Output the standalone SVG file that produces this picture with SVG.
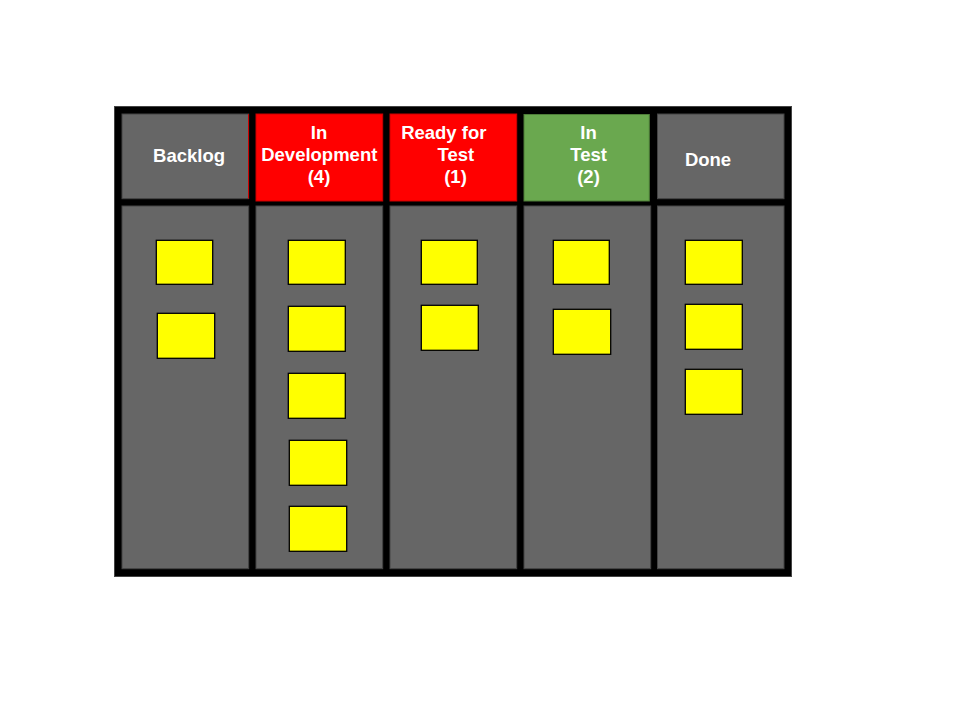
<svg xmlns="http://www.w3.org/2000/svg" width="960" height="720" viewBox="0 0 960 720">
<style>
.board{fill:#000000;stroke:#444444;stroke-width:1}
.panel{fill:#666666;stroke:#444444;stroke-width:1}
.red{fill:#ff0000;stroke:#cc0000;stroke-width:1}
.green{fill:#6aa84f;stroke:#4e7d39;stroke-width:1}
.card{fill:#ffff00;stroke:#000000;stroke-width:1.3}
.lbl{font-family:"Liberation Sans",Arial,sans-serif;font-weight:bold;font-size:18.5px;fill:#ffffff;text-anchor:middle}
</style>
<rect width="960" height="720" fill="#ffffff"/>
<g id="board">
<rect class="board" x="114.5" y="106.5" width="677" height="470"/>
</g>
<g id="col-backlog">
<rect class="panel" x="122" y="114" width="126.7" height="84.7"/>
<line x1="248.5" y1="114" x2="248.5" y2="198.7" stroke="#cc0000" stroke-width="1"/>
<text class="lbl" x="189" y="162">Backlog</text>
<rect class="panel" x="122" y="206" width="126.7" height="362.7"/>
<rect class="card" x="156.3" y="240.3" width="56.4" height="44"/>
<rect class="card" x="157.3" y="313.3" width="57.4" height="45"/>
</g>
<g id="col-dev">
<rect class="red" x="256" y="114" width="126.7" height="87"/>
<text class="lbl" x="319" y="139">In</text>
<text class="lbl" x="319.3" y="161">Development</text>
<text class="lbl" x="319" y="183">(4)</text>
<rect class="panel" x="256" y="206" width="126.7" height="362.7"/>
<rect class="card" x="288.3" y="240.3" width="57" height="44"/>
<rect class="card" x="288.3" y="306.3" width="57" height="45"/>
<rect class="card" x="288.3" y="373.3" width="57" height="45"/>
<rect class="card" x="289.3" y="440.3" width="57.4" height="45"/>
<rect class="card" x="289.3" y="506.3" width="57.4" height="45"/>
</g>
<g id="col-ready">
<rect class="red" x="390" y="114" width="126.7" height="87"/>
<text class="lbl" x="443.8" y="139">Ready for</text>
<text class="lbl" x="455.8" y="161">Test</text>
<text class="lbl" x="455.5" y="183">(1)</text>
<rect class="panel" x="390" y="206" width="126.7" height="362.7"/>
<rect class="card" x="421.3" y="240.3" width="56" height="44"/>
<rect class="card" x="421.3" y="305.3" width="57" height="45"/>
</g>
<g id="col-intest">
<rect class="green" x="524" y="114.5" width="125.3" height="86.5"/>
<text class="lbl" x="588.5" y="139">In</text>
<text class="lbl" x="588.7" y="161">Test</text>
<text class="lbl" x="588.5" y="183">(2)</text>
<rect class="panel" x="524" y="206" width="126.7" height="362.7"/>
<rect class="card" x="553.3" y="240.3" width="56" height="44"/>
<rect class="card" x="553.3" y="309.3" width="57.4" height="45"/>
</g>
<g id="col-done">
<rect class="panel" x="657.5" y="114" width="126.5" height="84.7"/>
<text class="lbl" x="708" y="166">Done</text>
<rect class="panel" x="657.5" y="206" width="126.5" height="362.7"/>
<rect class="card" x="685.3" y="240.3" width="57" height="44"/>
<rect class="card" x="685.3" y="304.3" width="57" height="45"/>
<rect class="card" x="685.3" y="369.3" width="57" height="45"/>
</g>
<g id="connectors"></g>
</svg>
